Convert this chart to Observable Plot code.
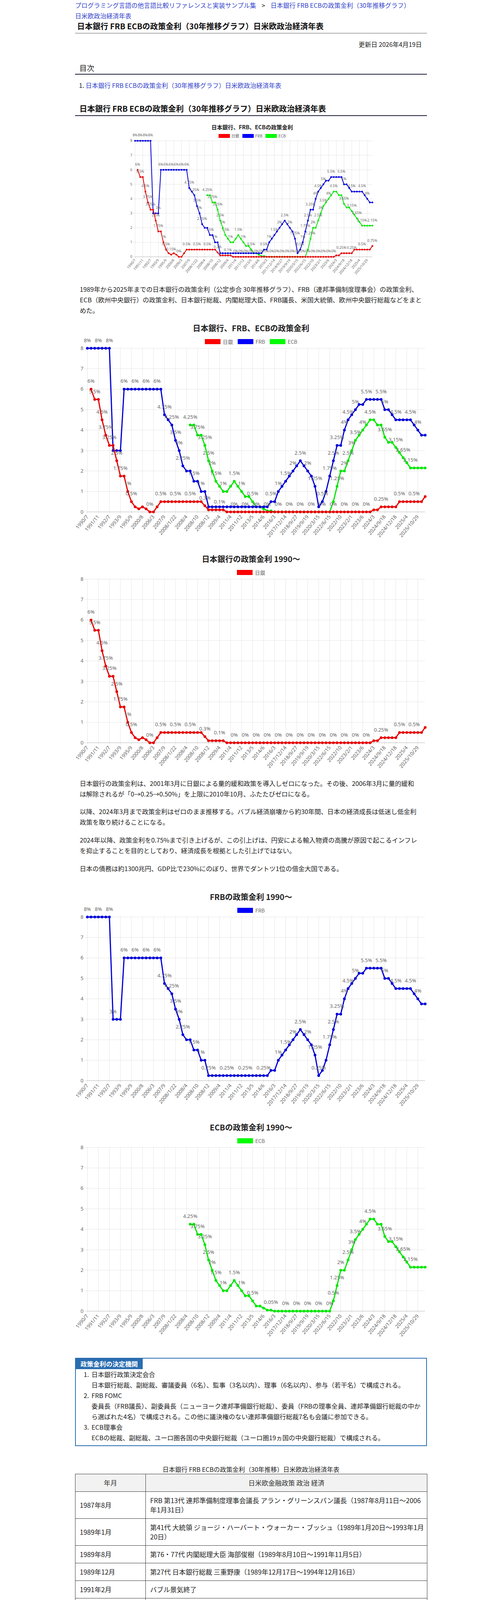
<!DOCTYPE html>
<html lang="ja">
<head>
<meta charset="utf-8">
<script src="https://cdn.jsdelivr.net/npm/d3@7"></script>
<script src="https://cdn.jsdelivr.net/npm/@observablehq/plot@0.6"></script>
<style>
html,body{margin:0;padding:0;background:#fff;}
body{font-family:"Noto Sans CJK JP","Noto Sans",sans-serif;color:#222;}
#page{position:relative;width:900px;height:6100px;margin:0 auto;}
.abs{position:absolute;left:0;width:900px;box-sizing:border-box;}
a{color:#3344cc;text-decoration:none;}
.crumb{font-size:16px;line-height:27px;white-space:nowrap;}
.sep{margin:0 14px;color:#222;}
.para{left:12px;width:880px;font-size:16.3px;line-height:27px;white-space:nowrap;color:#222;}
.box{border:2px solid #2a6db0;font-size:16.3px;line-height:27px;white-space:nowrap;}
.tab{display:inline-block;background:#2a6db0;color:#fff;font-weight:bold;padding:0 12px;line-height:27px;}
.it{padding-left:20px;}
.num{display:inline-block;width:20px;}
.sub{padding-left:40px;}
table.tl{border-collapse:collapse;width:900px;font-size:17px;line-height:24px;color:#222;table-layout:fixed;}
table.tl td,table.tl th{border:1px solid #333;padding:10px 11px;white-space:nowrap;text-align:left;vertical-align:middle;overflow:visible;}
table.tl th{background:#f2f2f2;font-weight:normal;text-align:center;color:#333;}
table.tl tr.nb td{border-top:hidden;}
.cap{text-align:center;font-size:16px;line-height:23px;color:#222;}
</style>
</head>
<body>
<div id="page">
  <div class="abs crumb" style="top:0;"><a href="#">プログラミング言語の他言語比較リファレンスと実装サンプル集</a><span class="sep">&gt;</span><a href="#">日本銀行 FRB ECBの政策金利（30年推移グラフ）<br>日米欧政治経済年表</a></div>
  <div class="abs" style="top:53px;left:5px;width:895px;font-size:20px;line-height:28px;font-weight:bold;color:#111;">日本銀行 FRB ECBの政策金利（30年推移グラフ）日米欧政治経済年表</div>
  <div class="abs" style="top:84px;height:2px;background:#aaa;"></div>
  <div class="abs" style="top:100px;text-align:right;padding-right:13px;font-size:16px;line-height:27px;">更新日 2026年4月19日</div>
  <div class="abs" style="top:160px;left:11px;width:889px;font-size:19px;line-height:27px;">目次</div>
  <div class="abs" style="top:189px;height:2px;background:#1c1c3a;"></div>
  <div class="abs" style="top:205px;left:10px;width:890px;font-size:16px;line-height:27px;">1. <a href="#">日本銀行 FRB ECBの政策金利（30年推移グラフ）日米欧政治経済年表</a></div>
  <div class="abs" style="top:264px;left:11px;width:889px;font-size:20px;line-height:28px;font-weight:bold;color:#111;">日本銀行 FRB ECBの政策金利（30年推移グラフ）日米欧政治経済年表</div>
  <div class="abs" style="top:295px;height:2px;background:#1c1c3a;"></div>

  <div id="c0"></div>

  <div class="abs para" style="top:727px;">1989年から2025年までの日本銀行の政策金利（公定歩合 30年推移グラフ）、FRB（連邦準備制度理事会）の政策金利、<br>ECB（欧州中央銀行）の政策金利、日本銀行総裁、内閣総理大臣、FRB議長、米国大統領、欧州中央銀行総裁などをまと<br>めた。</div>

  <div id="c1"></div>
  <div id="c2"></div>

  <div class="abs para" style="top:1992px;">日本銀行の政策金利は、2001年3月に日銀による量的緩和政策を導入しゼロになった。その後、2006年3月に量的緩和<br>は解除されるが「0→0.25→0.50%」を上限に2010年10月、ふたたびゼロになる。</div>
  <div class="abs para" style="top:2064px;">以降、2024年3月まで政策金利はゼロのまま推移する。バブル経済崩壊から約30年間、日本の経済成長は低迷し低金利<br>政策を取り続けることになる。</div>
  <div class="abs para" style="top:2137px;">2024年以降、政策金利を0.75%まで引き上げるが、この引上げは、円安による輸入物資の高騰が原因で起こるインフレ<br>を抑止することを目的としており、経済成長を根拠とした引上げではない。</div>
  <div class="abs para" style="top:2210px;">日本の債務は約1300兆円、GDP比で230%にのぼり、世界でダントツ1位の借金大国である。</div>

  <div id="c3"></div>
  <div id="c4"></div>

  <div class="abs box" style="top:3476px;height:226px;">
    <div class="tab">政策金利の決定機関</div>
    <div class="it"><span class="num">1.</span>日本銀行政策決定会合</div>
    <div class="sub">日本銀行総裁、副総裁、審議委員（6名）、監事（3名以内）、理事（6名以内）、参与（若干名）で構成される。</div>
    <div class="it"><span class="num">2.</span>FRB FOMC</div>
    <div class="sub">委員長（FRB議長）、副委員長（ニューヨーク連邦準備銀行総裁）、委員（FRBの理事全員、連邦準備銀行総裁の中か<br>ら選ばれた4名）で構成される。この他に議決権のない連邦準備銀行総裁7名も会議に参加できる。</div>
    <div class="it"><span class="num">3.</span>ECB理事会</div>
    <div class="sub">ECBの総裁、副総裁、ユーロ圏各国の中央銀行総裁（ユーロ圏19ヵ国の中央銀行総裁）で構成される。</div>
  </div>

  <div class="abs" style="top:3750px;">
    <div class="cap">日本銀行 FRB ECBの政策金利（30年推移）日米欧政治経済年表</div>
    <table class="tl" id="tl">
      <colgroup><col style="width:180px"><col style="width:720px"></colgroup>
      <thead><tr><th>年月</th><th>日米欧金融政策 政治 経済</th></tr></thead>
      <tbody></tbody>
    </table>
  </div>
</div>

<script>
// ---------- chart data ----------
const CATS = ["1990/7","1990/8","1991/7","1991/11","1991/12","1992/4","1992/7","1992/9","1993/2","1993/9",
"1995/2","1995/4","1995/9","1998/9","1999/2","2000/8","2001/2","2001/3","2006/3","2006/7",
"2007/2","2007/9","2007/10","2007/12","2008/1/22","2008/1/30","2008/3","2008/4","2008/7","2008/9",
"2008/10","2008/10/29","2008/11","2008/12","2009/1","2009/3","2009/4","2009/5","2010/10","2011/4",
"2011/7","2011/11","2011/12","2012/7","2013/4","2013/5","2013/11","2014/1","2014/6","2014/9",
"2015/12","2016/3","2016/12","2017/6","2017/12/14","2018/3","2018/6","2018/9/27","2018/12","2019/7",
"2019/9/19","2019/10","2020/3/3","2020/3/15","2022/3","2022/5","2022/6/15","2022/7","2022/9","2022/10",
"2022/11","2022/12","2023/2/1","2023/3","2023/5","2023/6","2023/7","2023/9","2024/3","2024/6",
"2024/7","2024/9/18","2024/10","2024/11","2024/12/18","2025/1","2025/3","2025/4","2025/6","2025/9",
"2025/10/29","2025/12/10","2025/12/19"];

const TICK_LABELS = ["1990/7","1991/11","1992/7","1993/9","1995/9","2000/8","2006/3","2007/9","2008/1/22","2008/4",
"2008/10","2008/12","2009/4","2011/4","2011/12","2013/5","2014/6","2016/3","2017/12/14","2018/9/27",
"2019/9/19","2020/3/15","2022/6/15","2022/10","2023/2/1","2023/6","2024/3","2024/9/18","2024/12/18","2025/4",
"2025/10/29"];

const Y_TICKS = [0,1,2,3,4,5,6,7,8];

const BOJ = [null,6,5.5,5.5,4.5,3.75,3.25,3.25,2.5,1.75,
1.75,1,0.5,0.25,0.15,0.25,0.15,0,0,0.25,
0.5,0.5,0.5,0.5,0.5,0.5,0.5,0.5,0.5,0.5,
0.5,0.5,0.3,0.1,0.1,0.1,0.1,0.1,0,0,
0,0,0,0,0,0,0,0,0,0,
0,0,0,0,0,0,0,0,0,0,
0,0,0,0,0,0,0,0,0,0,
0,0,0,0,0,0,0,0,0.1,0.1,
0.25,0.25,0.25,0.25,0.25,0.5,0.5,0.5,0.5,0.5,
0.5,0.5,0.75];

const FRB = [8,8,8,8,8,8,8,3,3,3,
6,6,6,6,6,6,6,6,6,6,
6,4.75,4.5,4.25,3.5,3,2.25,2,2,1.5,
1.5,1,1,0.25,0.25,0.25,0.25,0.25,0.25,0.25,
0.25,0.25,0.25,0.25,0.25,0.25,0.25,0.25,0.25,0.25,
0.5,0.5,1,1.25,1.5,1.75,2,2.25,2.5,2.25,
2,1.75,1.25,0.25,0.5,1,1.75,2.5,3.25,3.25,
4,4.5,4.75,5,5.25,5.25,5.5,5.5,5.5,5.5,
5.5,5,5,4.75,4.5,4.5,4.5,4.5,4.5,4.25,
4,3.75,3.75];

const ECB = [null,null,null,null,null,null,null,null,null,null,
null,null,null,null,null,null,null,null,null,null,
null,null,null,null,null,null,null,null,4.25,4.25,
3.75,3.75,3.25,2.5,2,1.5,1.25,1,1,1.25,
1.5,1.25,1,0.75,0.75,0.5,0.25,0.25,0.15,0.05,
0.05,0,0,0,0,0,0,0,0,0,
0,0,0,0,0,0,0,0.5,1.25,2,
2,2.5,3,3.5,3.75,4,4.25,4.5,4.5,4.25,
4.25,3.65,3.4,3.4,3.15,2.9,2.65,2.4,2.15,2.15,
2.15,2.15,2.15];

const SERIES_NAMES = ["日銀","FRB","ECB"];
const LINE_COLORS = ["#e60000","#0000d8","#00e600"];
const BOX_COLORS = ["#ff0000","#0000ff","#00ff00"];
const SERIES_VALUES = [BOJ, FRB, ECB];

// ---------- table data ----------
const T_DATES = ["1987年8月","1989年1月","1989年8月","1989年12月","1991年2月","1990年7月","1991年7月","1991年11月","1991年11月","1991年12月",
"1992年4月","1992年7月","1992年9月","1993年1月","1993年2月","1993年8月","1993年9月","1993年11月","1994年4月","1994年6月",
"1994年12月","1995年2月","1995年4月","1995年9月","1996年1月","1997年4月","1997年11月","1998年3月","1998年6月","1998年6月",
"1998年6月","1998年7月","1998年9月","1998年10月","1999年1月","1999年2月","2000年4月","2000年7月","2000年8月","2001年1月",
"2001年1月","2001年2月","2001年3月","2001年3月","2001年3月"];
const T_EVENTS = [
"FRB 第13代 連邦準備制度理事会議長 アラン・グリーンスパン議長（1987年8月11日〜2006\n年1月31日）",
"第41代 大統領 ジョージ・ハーバート・ウォーカー・ブッシュ（1989年1月20日〜1993年1月\n20日）",
"第76・77代 内閣総理大臣 海部俊樹（1989年8月10日〜1991年11月5日）",
"第27代 日本銀行総裁 三重野康（1989年12月17日〜1994年12月16日）",
"バブル景気終了",
"FRB 政策金利 8.00%",
"日銀 公定歩合 引下げ 6.00% → 5.50%",
"日銀 公定歩合 引下げ 5.50% → 5.00%",
"第78代 内閣総理大臣 宮澤喜一（1991年11月5日〜1993年8月9日）",
"日銀 公定歩合 引下げ 5.00% → 4.50%",
"日銀 公定歩合 引下げ 4.50% → 3.75%",
"日銀 公定歩合 引下げ 3.75% → 3.25%",
"FRB 政策金利 3.00%",
"第42代 大統領 ビル・クリントン（1993年1月20日〜2001年1月20日）",
"日銀 公定歩合 引下げ 3.25% → 2.50%",
"第79代 内閣総理大臣 細川護熙（1993年8月9日〜1994年4月28日）",
"日銀 公定歩合 引下げ 2.50% → 1.75%",
"欧州連合（EU）創設（1993年11月1日）",
"第80代 内閣総理大臣 羽田孜（1994年4月28日〜1994年6月30日）",
"第81代 内閣総理大臣 村山富市（1994年6月30日〜1996年1月11日）",
"第27代 日本銀行総裁 松下康雄（1994年12月17日〜1998年3月20日）",
"FRB 政策金利 6.00%",
"日銀 公定歩合 引下げ 1.75% → 1.00%",
"日銀 公定歩合 引下げ 1.00% → 0.50%",
"第82・83代 内閣総理大臣 橋本龍太郎（1996年1月11日〜1998年7月30日）",
"消費税5%に引き上げ（3%→5%）",
"山一證券（1997年11月24日 自主廃業）、三洋証券（1997年11月4日 経営破綻）、北海道拓殖\n銀行（1997年11月17日 経営破綻）",
"第28代 日本銀行総裁 速水優（1998年3月20日〜2003年3月19日）",
"金融監督庁 設置（1998年6月22日）",
"欧州中央銀行（ECB）設立（1998年6月1日）",
"ECB 初代 欧州中央銀行総裁 ウィム・ドイセンベルク（1998年6月1日〜2011年10月31日）",
"第84代 内閣総理大臣 小渕恵三（1998年7月30日〜2000年4月5日）",
"日銀 公定歩合 引下げ 0.25%",
"日本長期信用銀行（1998年10月23日 経営破綻）、日本債券信用銀行（1998年10月 経営破綻）",
"EC加盟国のうち11ヵ国（ドイツ，フランス，イタリア，スペイン，ポルトガル，アイルラン\nド，オーストリア，フィンランド，ベルギー，オランダ，ルクセンブルグ）でユーロ導入\n（1999年1月1日）",
"日銀 ゼロ金利政策開始（オーバーナイト金利を当初0.15%に利下げし、その後一層の低下を目\n指す）（1999年2月12日）",
"第85・86代 内閣総理大臣 森喜朗（2000年4月5日〜2001年4月26日）",
"金融監督庁を金融庁に組織改編（2000年7月1日）",
"日銀 ゼロ金利政策解除（オーバーナイト金利引上げ）",
"中央省庁再編（1府22省庁→1府12省庁）（2001年1月6日）",
"第43代 大統領 ジョージ・ウォーカー・ブッシュ（2001年1月20日〜2009年1月20日）",
"日銀 公定歩合 引下げ 0.50% → 0.35%",
"日銀 オーバーナイト金利の誘導目標 引下げ 0.25% → 0.15%",
"日銀 公定歩合 引下げ 0.35% → 0.25%",
"日銀 量的緩和政策を導入"];
const T_JOINED = [15, 31, 37]; // rows drawn without a rule above

// ---------- table ----------
(function(){
  const tb = document.querySelector("#tl tbody");
  T_DATES.forEach((d, i) => {
    const tr = document.createElement("tr");
    if (T_JOINED.includes(i)) tr.className = "nb";
    const a = document.createElement("td"); a.textContent = d;
    const b = document.createElement("td");
    T_EVENTS[i].split("\n").forEach((ln, j) => { if (j) b.appendChild(document.createElement("br")); b.appendChild(document.createTextNode(ln)); });
    tr.appendChild(a); tr.appendChild(b); tb.appendChild(tr);
  });
})();

// ---------- charts ----------
const mctx = document.createElement("canvas").getContext("2d");
function textWidth(t, fs){ mctx.font = fs + 'px "Noto Sans"'; return mctx.measureText(t).width; }

function pickLabels(idxs, xs, ys, k){
  const kept = [], out = [];
  for (let i = 0; i < CATS.length; i++) {
    for (const si of idxs) {
      const v = SERIES_VALUES[si][i];
      if (v == null) continue;
      const t = v + "%";
      const w = textWidth(t, k.fs) + 2 * k.pad;
      const h = k.fs * 1.2 + 2 * k.pad;
      const cx = xs.apply(CATS[i]), cy = ys.apply(v) - k.off;
      const b = [cx - w/2, cy - h/2, cx + w/2, cy + h/2];
      if (kept.some(q => q[0] < b[2] && b[0] < q[2] && q[1] < b[3] && b[1] < q[3])) continue;
      kept.push(b);
      out.push({cat: CATS[i], v, t});
    }
  }
  return out;
}

function buildChart(hostId, title, idxs, titleCenter, left, width, k){
  const host = document.getElementById(hostId);
  host.className = "abs";
  host.style.top = (titleCenter - k.titleLH/2) + "px";
  host.style.left = left + "px";
  host.style.width = width + "px";
  const t = document.createElement("div");
  t.textContent = title;
  t.style.cssText = `text-align:center;font-weight:bold;font-size:${k.titleSize}px;line-height:${k.titleLH}px;color:#222;white-space:nowrap;`;
  host.appendChild(t);
  const wrap = document.createElement("div");
  wrap.style.cssText = `position:relative;margin-top:${k.gap}px;width:${width}px;`;
  host.appendChild(wrap);

  const rows = idxs.map(si => SERIES_VALUES[si].map((v, i) => ({cat: CATS[i], v})).filter(d => d.v != null));
  const H = k.mt + k.ph + k.mb;
  const W = width + k.padL + k.padR;
  const common = {
    width: W, height: H,
    marginLeft: k.ml + k.padL, marginRight: k.mr + k.padR, marginTop: k.mt, marginBottom: k.mb,
    x: {type: "point", domain: CATS, padding: 0},
    y: {domain: [0, 8]},
    style: {fontFamily: '"Noto Sans", sans-serif', fontSize: k.fs + "px", color: "#666", background: "transparent",
            overflow: "visible", display: "block", maxWidth: "none", width: W + "px", height: H + "px", marginLeft: (-k.padL) + "px"}
  };
  const base = [
    Plot.ruleY(Y_TICKS, {stroke: "#000", strokeOpacity: 0.1}),
    Plot.ruleX(TICK_LABELS, {stroke: "#000", strokeOpacity: 0.1}),
    Plot.ruleY([0], {stroke: "#000", strokeOpacity: 0.2}),
    Plot.axisY({ticks: Y_TICKS, tickSize: k.tick, tickPadding: k.tickPad, stroke: "#000", strokeOpacity: 0.12, fill: "#666", label: null}),
    Plot.axisX({ticks: TICK_LABELS, tickSize: k.tick, tickPadding: k.tickPad, tickRotate: -50, stroke: "#000", strokeOpacity: 0.12, fill: "#666", label: null})
  ];
  const dataMarks = [];
  for (let j = idxs.length - 1; j >= 0; j--) {
    const c = LINE_COLORS[idxs[j]];
    dataMarks.push(Plot.line(rows[j], {x: "cat", y: "v", stroke: c, strokeWidth: k.sw}));
    dataMarks.push(Plot.dot(rows[j], {x: "cat", y: "v", r: k.r, fill: c, stroke: null}));
  }
  const p0 = Plot.plot({...common, marks: [...base, ...dataMarks]});
  const labels = pickLabels(idxs, p0.scale("x"), p0.scale("y"), k);
  const p = Plot.plot({...common, marks: [...base, ...dataMarks,
    Plot.text(labels, {x: "cat", y: "v", text: "t", dy: -k.off, fill: "#666", fontSize: k.fs})]});
  wrap.appendChild(p);

  const lg = document.createElement("div");
  lg.style.cssText = `position:absolute;left:0;right:0;top:${k.legendTop}px;text-align:center;font-size:${k.legFs}px;line-height:${k.boxH}px;color:#666;white-space:nowrap;`;
  idxs.forEach(si => {
    const it = document.createElement("span");
    it.style.cssText = `display:inline-block;margin:0 ${k.legGap/2}px;vertical-align:top;`;
    const b = document.createElement("span");
    b.style.cssText = `display:inline-block;box-sizing:border-box;width:${k.boxW}px;height:${k.boxH}px;background:${BOX_COLORS[si]};border:1px solid ${LINE_COLORS[si]};vertical-align:top;margin-right:${k.legPad}px;`;
    it.appendChild(b);
    it.appendChild(document.createTextNode(SERIES_NAMES[si]));
    lg.appendChild(it);
  });
  wrap.appendChild(lg);
}

const BIG = {titleSize: 20, titleLH: 24, gap: 10, mt: 29, ph: 419, mb: 92, ml: 31, mr: 5, padL: 30, padR: 24,
  fs: 13, pad: 4, off: 20, r: 3.5, sw: 3, tick: 6, tickPad: 4,
  legendTop: 6, legFs: 13, boxW: 40, boxH: 13, legGap: 12, legPad: 6};
const SMALL = {titleSize: 14, titleLH: 18, gap: 2, mt: 24, ph: 297, mb: 60, ml: 30, mr: 23, padL: 20, padR: 16,
  fs: 9, pad: 0, off: 14, r: 2.3, sw: 2, tick: 4, tickPad: 3,
  legendTop: 7, legFs: 10, boxW: 29, boxH: 10, legGap: 8, legPad: 4};

buildChart("c0", "日本銀行、FRB、ECBの政策金利", [0,1,2], 325, 123, 660, SMALL);
buildChart("c1", "日本銀行、FRB、ECBの政策金利", [0,1,2], 840, 0, 900, BIG);
buildChart("c2", "日本銀行の政策金利 1990〜", [0], 1431, 0, 900, BIG);
buildChart("c3", "FRBの政策金利 1990〜", [1], 2296, 0, 900, BIG);
buildChart("c4", "ECBの政策金利 1990〜", [2], 2886, 0, 900, BIG);
</script>
</body>
</html>
